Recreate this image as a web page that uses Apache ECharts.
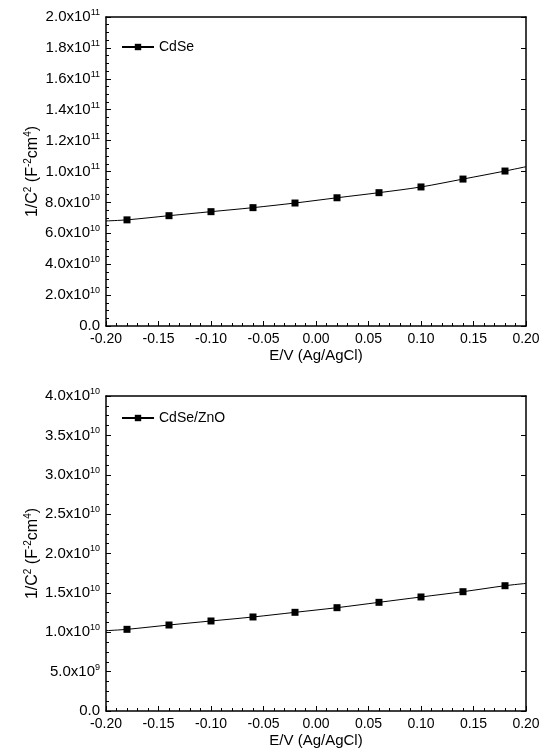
<!DOCTYPE html>
<html>
<head>
<meta charset="utf-8">
<script src="https://cdn.jsdelivr.net/npm/echarts@6/dist/echarts.min.js"></script>
<style>
  html, body { margin: 0; padding: 0; background: #fff; }
  #chart { width: 543px; height: 755px; }
</style>
</head>
<body>
<div id="chart"></div>
<script>
// Mott-Schottky data: potential (V vs Ag/AgCl) and 1/C^2 (F^-2 cm^4)
const potentials = [-0.18, -0.14, -0.10, -0.06, -0.02, 0.02, 0.06, 0.10, 0.14, 0.18];
const cdseValues = [6.87e10, 7.14e10, 7.40e10, 7.66e10, 7.96e10, 8.30e10, 8.63e10, 9.00e10, 9.51e10, 10.03e10];
const cdznoValues = [1.037e10, 1.092e10, 1.143e10, 1.194e10, 1.253e10, 1.312e10, 1.380e10, 1.448e10, 1.515e10, 1.591e10];
// fitted curve values at the window edges (-0.20 V and 0.20 V)
const fitEnds = [-0.20, 0.20];
const cdseFitEnds = [6.80e10, 10.31e10];
const cdznoFitEnds = [1.02e10, 1.62e10];
const xTicks = ['-0.20', '-0.15', '-0.10', '-0.05', '0.00', '0.05', '0.10', '0.15', '0.20'];

const FONT = '"Liberation Sans", Arial, sans-serif';

function buildSeriesData(xs, ys, ends, endVals) {
  const pts = [{ value: [ends[0], endVals[0]], symbol: 'none' }];
  xs.forEach((x, i) => pts.push({ value: [x, ys[i]] }));
  pts.push({ value: [ends[1], endVals[1]], symbol: 'none' });
  return pts;
}

function sciLabel(v) {
  if (v === 0) return '0.0';
  const e = Math.floor(Math.log10(v) + 1e-9);
  const m = v / Math.pow(10, e);
  return m.toFixed(1) + 'x10{sup|' + e + '}';
}

const labelStyle = { fontFamily: FONT, fontSize: 14, color: '#000' };
const yLabelStyle = { fontFamily: FONT, fontSize: 15, color: '#000' };
const supStyle = { fontFamily: FONT, fontSize: 9, color: '#000', padding: [0, 0, 9, 0] };
const axisLine = { show: true, onZero: false, lineStyle: { color: '#000', width: 1.5 } };
const tickStyle = { show: true, inside: true, length: 5, lineStyle: { color: '#000' } };

function makeX(gridIndex) {
  return [{
    type: 'value', gridIndex, position: 'bottom', min: -0.2, max: 0.2, interval: 0.05,
    axisLine, splitLine: { show: false },
    axisTick: tickStyle,
    minorTick: { show: true, splitNumber: 5, length: 3, lineStyle: { color: '#000' } },
    axisLabel: Object.assign({ margin: 6, formatter: v => xTicks[Math.round((v + 0.2) / 0.05)] }, labelStyle),
    name: 'E/V (Ag/AgCl)', nameLocation: 'middle', nameGap: 22, nameMoveOverlap: false,
    nameTextStyle: { fontFamily: FONT, fontSize: 15, color: '#000' }
  }, {
    type: 'value', gridIndex, position: 'top', min: -0.2, max: 0.2, interval: 0.05,
    axisLine, splitLine: { show: false },
    axisTick: { show: false }, axisLabel: { show: false }
  }];
}

function makeY(gridIndex, max, interval) {
  return [{
    type: 'value', gridIndex, position: 'left', min: 0, max, interval,
    axisLine, splitLine: { show: false },
    axisTick: tickStyle,
    minorTick: { show: true, splitNumber: 4, length: 3, lineStyle: { color: '#000' } },
    axisLabel: Object.assign({ margin: 6, formatter: sciLabel, rich: { sup: supStyle } }, yLabelStyle),
    name: '1/C{s|2} (F{s|-2}cm{s|4})', nameLocation: 'middle', nameGap: 64, nameRotate: 90,
    nameMoveOverlap: false,
    nameTextStyle: {
      fontFamily: FONT, fontSize: 16, color: '#000',
      rich: { s: { fontFamily: FONT, fontSize: 10, color: '#000', padding: [0, 0, 9, 0] } }
    }
  }, {
    type: 'value', gridIndex, position: 'right', min: 0, max, interval,
    axisLine, splitLine: { show: false },
    axisTick: tickStyle,
    axisLabel: { show: false }
  }];
}

function makeSeries(name, idx, data) {
  return {
    name, type: 'line', xAxisIndex: idx * 2, yAxisIndex: idx * 2,
    data, smooth: 0.3, symbol: 'rect', symbolSize: 7, showSymbol: true,
    lineStyle: { color: '#000', width: 1 },
    itemStyle: { color: '#000' },
    animation: false
  };
}

const chart = echarts.init(document.getElementById('chart'));
chart.setOption({
  backgroundColor: '#fff',
  animation: false,
  grid: [
    { left: 106, top: 17, width: 420, height: 309 },
    { left: 106, top: 396, width: 420, height: 315 }
  ],
  legend: [
    { data: ['CdSe'], left: 116, top: 35, itemWidth: 32, itemHeight: 8, itemGap: 5,
      textStyle: labelStyle },
    { data: ['CdSe/ZnO'], left: 116, top: 406, itemWidth: 32, itemHeight: 8, itemGap: 5,
      textStyle: labelStyle }
  ],
  xAxis: [...makeX(0), ...makeX(1)],
  yAxis: [...makeY(0, 2e11, 2e10), ...makeY(1, 4e10, 5e9)],
  series: [
    makeSeries('CdSe', 0, buildSeriesData(potentials, cdseValues, fitEnds, cdseFitEnds)),
    makeSeries('CdSe/ZnO', 1, buildSeriesData(potentials, cdznoValues, fitEnds, cdznoFitEnds))
  ]
});
</script>
</body>
</html>
